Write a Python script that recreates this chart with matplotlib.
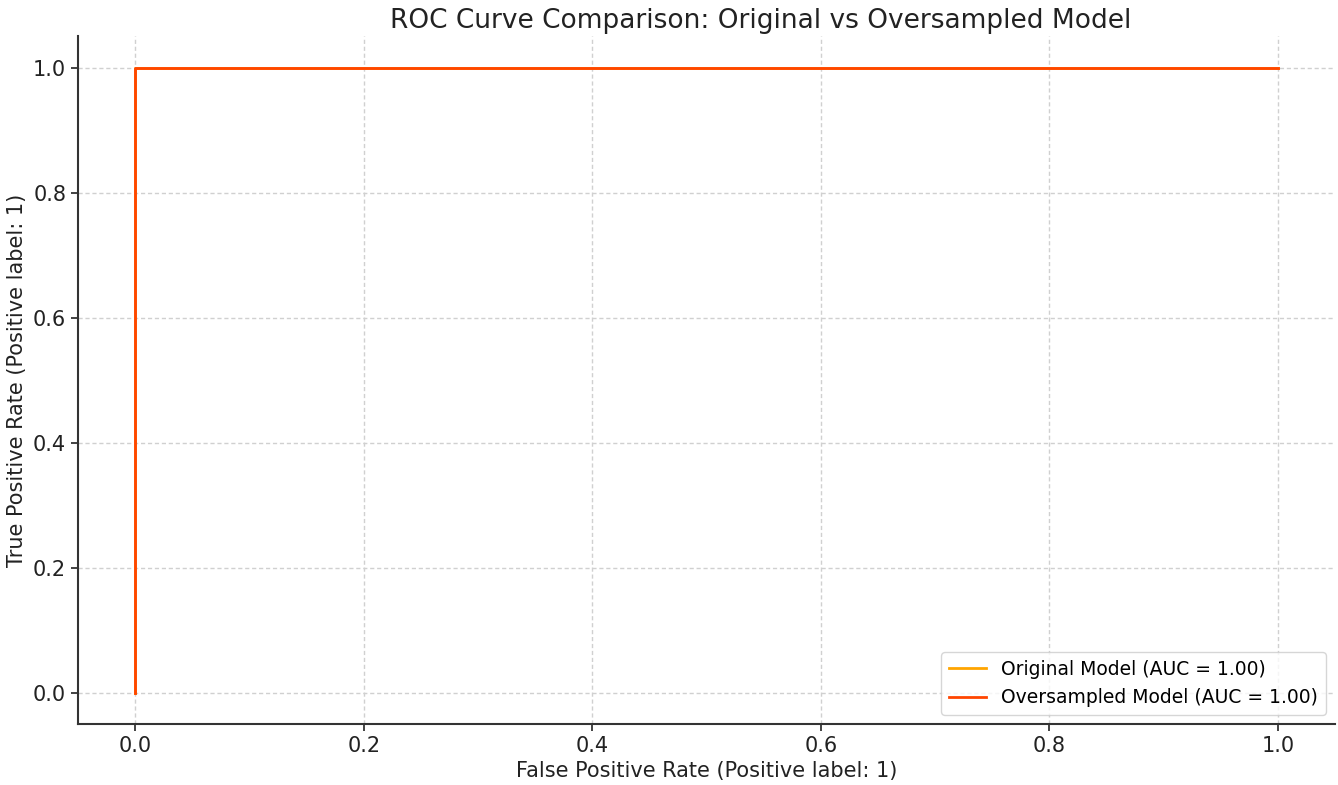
import matplotlib
matplotlib.use("Agg")
import matplotlib.pyplot as plt

# ROC points for the two models (both perfect classifiers)
fpr_original = [0.0, 0.0, 1.0]
tpr_original = [0.0, 1.0, 1.0]
auc_original = 1.00

fpr_oversampled = [0.0, 0.0, 1.0]
tpr_oversampled = [0.0, 1.0, 1.0]
auc_oversampled = 1.00

fig = plt.figure(figsize=(13.38, 7.85), dpi=100)
ax = fig.add_axes([0.0583, 0.0777, 0.9395, 0.876])

ax.plot(fpr_original, tpr_original, color="#ffa500", lw=2,
        label=f"Original Model (AUC = {auc_original:.2f})")
ax.plot(fpr_oversampled, tpr_oversampled, color="#ff4500", lw=2,
        label=f"Oversampled Model (AUC = {auc_oversampled:.2f})")

ax.set_xlim(-0.05, 1.05)
ax.set_ylim(-0.05, 1.05)
ax.set_xticks([0.0, 0.2, 0.4, 0.6, 0.8, 1.0])
ax.set_yticks([0.0, 0.2, 0.4, 0.6, 0.8, 1.0])
ax.tick_params(labelsize=15, length=5, width=1.2, colors="#222222")

ax.spines["top"].set_visible(False)
ax.spines["right"].set_visible(False)
for side in ["left", "bottom"]:
    ax.spines[side].set_linewidth(1.5)
    ax.spines[side].set_color("#333333")

# fine dashed grid, like the original
ax.grid(True, linestyle=(0, (3, 2)), color="#d0d0d0", linewidth=1)
ax.set_axisbelow(True)

ax.set_xlabel("False Positive Rate (Positive label: 1)", fontsize=15, color="#222222")
ax.set_ylabel("True Positive Rate (Positive label: 1)", fontsize=15, color="#222222")
# title sits a bit right of the axes centre in the reference
ax.set_title("ROC Curve Comparison: Original vs Oversampled Model",
             fontsize=19, color="#222222", x=0.543)

ax.legend(loc="lower right", fontsize=13.5, frameon=True, framealpha=0.8)

fig.savefig("out.png", dpi=100)
